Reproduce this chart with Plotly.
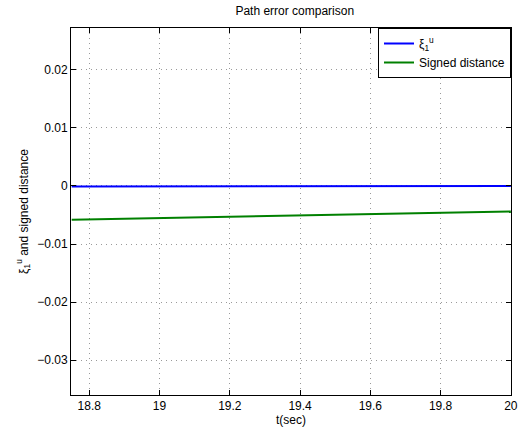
import plotly.graph_objects as go

t = [18.75, 19.0, 19.25, 19.5, 19.75, 20.0]
xi_u = [-0.00008, -0.00007, -0.00005, -0.00003, -0.00002, 0.0]
signed_dist = [-0.0058, -0.0055, -0.0052, -0.0049, -0.00465, -0.0044]

x_ticks = [18.8, 19.0, 19.2, 19.4, 19.6, 19.8, 20.0]
x_labels = ["18.8", "19", "19.2", "19.4", "19.6", "19.8", "20"]
y_ticks = [-0.03, -0.02, -0.01, 0, 0.01, 0.02]
y_labels = ["\u22120.03", "\u22120.02", "\u22120.01", "0", "0.01", "0.02"]

FONT = "Liberation Sans, Arial, sans-serif"
FS = 12

fig = go.Figure()
fig.add_trace(go.Scatter(x=t, y=xi_u, mode="lines", name="\u03be<sub>1</sub><sup>u</sup>",
                         line=dict(color="#0000ff", width=2)))
fig.add_trace(go.Scatter(x=t, y=signed_dist, mode="lines", name="Signed distance",
                         line=dict(color="#008000", width=2)))

axis_common = dict(showline=True, linecolor="black", linewidth=1, mirror="allticks",
                   ticks="inside", ticklen=5, tickcolor="black",
                   showgrid=True, gridcolor="#9a9a9a", griddash="1px,4px", gridwidth=1,
                   zeroline=False, ticklabeloverflow="allow",
                   tickfont=dict(size=FS, color="black", family=FONT))

fig.update_xaxes(range=[18.748, 20.0004], tickvals=x_ticks, ticktext=x_labels,
                 title=dict(text="t(sec)", font=dict(size=FS, color="black", family=FONT), standoff=1),
                 **axis_common)
fig.update_yaxes(range=[-0.036, 0.0272], tickvals=y_ticks, ticktext=y_labels,
                 title=dict(text="\u03be<sub>1</sub><sup>u</sup> and signed distance",
                            font=dict(size=FS, color="black", family=FONT), standoff=6),
                 **axis_common)

fig.update_layout(
    width=524, height=434,
    margin=dict(l=71, r=6, t=28, b=39),
    paper_bgcolor="white", plot_bgcolor="white",
    font=dict(family=FONT, size=FS, color="black"),
    title=dict(text="Path error comparison", x=0.5625, xanchor="center", y=0.985, yanchor="top",
               font=dict(size=FS, color="black", family=FONT)),
    legend=dict(x=1, y=1, xanchor="right", yanchor="top", bordercolor="black", borderwidth=1,
                bgcolor="white", font=dict(size=FS, color="black", family=FONT),
                tracegroupgap=4),
    showlegend=True,
)

fig.write_html("out.html")
